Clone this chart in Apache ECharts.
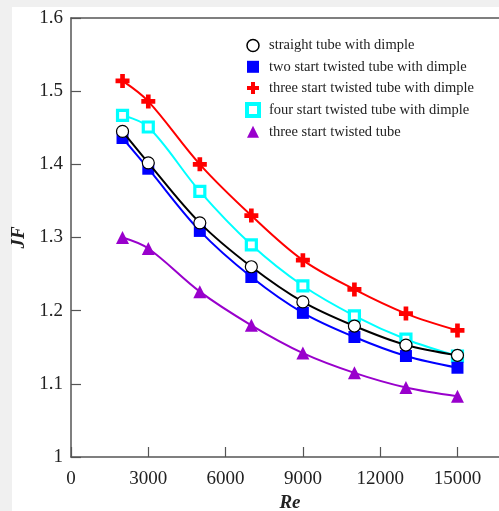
<!DOCTYPE html>
<html><head><meta charset="utf-8">
<script src="https://cdn.jsdelivr.net/npm/echarts@6/dist/echarts.min.js"></script>
<style>html,body{margin:0;padding:0;background:#f0f0f0;overflow:hidden}#c{width:499px;height:511px}</style>
</head><body><div id="c"></div>
<script>
const reValues = [2000, 3000, 5000, 7000, 9000, 11000, 13000, 15000];
const seriesNames = ['straight tube with dimple','two start twisted tube with dimple','three start twisted tube with dimple','four start twisted tube with dimple','three start twisted tube'];
const straightDimple = [1.445, 1.402, 1.320, 1.260, 1.212, 1.179, 1.153, 1.139];
const twoStartDimple = [1.436, 1.394, 1.309, 1.246, 1.197, 1.164, 1.138, 1.122];
const threeStartDimple = [1.514, 1.486, 1.400, 1.330, 1.269, 1.229, 1.196, 1.173];
const fourStartDimple = [1.467, 1.451, 1.363, 1.290, 1.234, 1.193, 1.161, 1.138];
const threeStartPlain = [1.300, 1.285, 1.226, 1.180, 1.142, 1.115, 1.095, 1.083];
const xTicks = [0, 3000, 6000, 9000, 12000, 15000];
const yTicks = [1, 1.1, 1.2, 1.3, 1.4, 1.5, 1.6];

const plus = 'path://M4,0H8V4H12V8H8V12H4V8H0V4H4Z';
const font = 'Liberation Serif';
const txt = '#222';
function pairs(v){return reValues.map((x,i)=>[x,v[i]]);}
const styles = [
  {data:straightDimple, color:'#000', symbol:'circle', size:12, item:{color:'#fff', borderColor:'#000', borderWidth:1.2}},
  {data:twoStartDimple, color:'#0000ff', symbol:'rect', size:12, item:{color:'#0000ff'}},
  {data:threeStartDimple, color:'#ff0000', symbol:plus, size:14, item:{color:'#ff0000'}},
  {data:fourStartDimple, color:'#00ffff', symbol:'rect', size:10, item:{color:'#fff', borderColor:'#00ffff', borderWidth:3.2}},
  {data:threeStartPlain, color:'#9900cc', symbol:'triangle', size:13, item:{color:'#9900cc'}}
];
const legendIcons = ['circle','rect',plus,'rect','triangle'];
const legendItems = [
  {color:'#fff', borderColor:'#000', borderWidth:1.5},
  {color:'#0000ff'},
  {color:'#ff0000'},
  {color:'#fff', borderColor:'#00ffff', borderWidth:4},
  {color:'#9900cc'}
];
const chart = echarts.init(document.getElementById('c'), null, {renderer:'canvas', width:499, height:511});
chart.setOption({
  animation:false,
  backgroundColor:'#f0f0f0',
  graphic:[{type:'rect', shape:{x:12,y:7,width:500,height:510}, style:{fill:'#fff'}, z:-10, silent:true}],
  grid:{left:71, top:18, width:438, height:439, containLabel:false, outerBoundsMode:'none'},
  legend:{
    orient:'vertical', left:240, top:33, itemWidth:12, itemHeight:12, itemGap:6.3,
    textStyle:{fontFamily:font, fontSize:14.5, color:txt, padding:[0,0,0,5]},
    data: seriesNames.map((n,i)=>({name:n, icon:legendIcons[i], itemStyle:legendItems[i]}))
  },
  xAxis:[{
    type:'value', min:0, max:17000, interval:3000, position:'bottom',
    name:'Re', nameLocation:'middle', nameGap:37,
    nameTextStyle:{fontFamily:font, fontSize:19, fontWeight:'bold', fontStyle:'italic', color:txt},
    axisLine:{show:true, onZero:false, lineStyle:{color:'#555', width:1.5}},
    axisTick:{show:true, inside:true, length:10, lineStyle:{color:'#555', width:1.2}},
    axisLabel:{fontFamily:font, fontSize:19, color:txt, margin:13, showMaxLabel:false,
      formatter:v=>xTicks.includes(v)?String(v):''},
    splitLine:{show:false}
  },{
    type:'value', min:0, max:17000, position:'top',
    axisLine:{show:true, onZero:false, lineStyle:{color:'#555', width:1.5}},
    axisTick:{show:false}, axisLabel:{show:false}, splitLine:{show:false}
  }],
  yAxis:{
    type:'value', min:1, max:1.6, interval:0.1,
    name:'JF', nameLocation:'middle', nameGap:34,
    nameTextStyle:{fontFamily:font, fontSize:19, fontWeight:'bold', fontStyle:'italic', color:txt},
    axisLine:{show:true, lineStyle:{color:'#555', width:1.5}},
    axisTick:{show:true, inside:true, length:10, lineStyle:{color:'#555', width:1.2}},
    axisLabel:{fontFamily:font, fontSize:19, color:txt, margin:8,
      formatter:v=>{const t=yTicks.find(k=>Math.abs(k-v)<1e-6);return t===undefined?'':String(t);}},
    splitLine:{show:false}
  },
  series: styles.map((s,i)=>({
    name:seriesNames[i], type:'line', data:pairs(s.data), smooth:0.35,
    symbol:s.symbol, symbolSize:s.size, showAllSymbol:true,
    lineStyle:{color:s.color, width:2}, itemStyle:s.item, color:s.color, z:10-i
  }))
});
</script></body></html>
